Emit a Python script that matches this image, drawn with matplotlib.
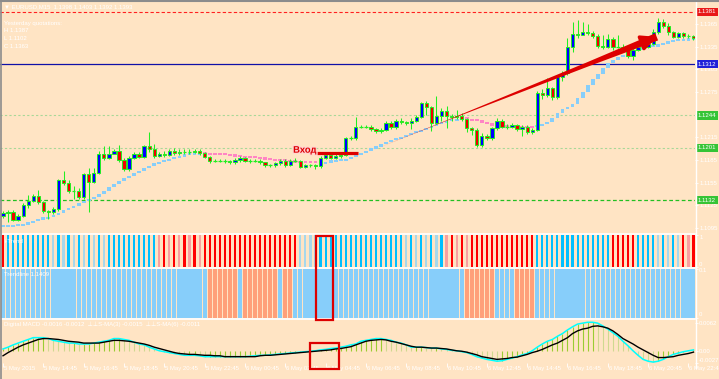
import numpy as np
import matplotlib
matplotlib.use('agg')
import matplotlib.pyplot as plt
from matplotlib.patches import Rectangle
from matplotlib.lines import Line2D
from matplotlib.transforms import blended_transform_factory
import matplotlib.patheffects as pe

plt.rcParams['font.family'] = ['Liberation Sans', 'DejaVu Sans']

# ---- data (EURUSD M15, 5-6 May 2015) ----
first_open = 1.1111
closes = [1.1115, 1.1116, 1.1106, 1.1111, 1.1125, 1.1131, 1.1137, 1.1129, 1.1117, 1.1116,
          1.1120, 1.1158, 1.1154, 1.1144, 1.1144, 1.1136, 1.1166, 1.1156, 1.1168, 1.1193,
          1.1188, 1.1193, 1.1197, 1.1185, 1.1173, 1.1188, 1.1193, 1.1189, 1.1203, 1.1200,
          1.1190, 1.1193, 1.1192, 1.1197, 1.1194, 1.1196, 1.1196, 1.1196, 1.1197, 1.1194,
          1.1189, 1.1184, 1.1184, 1.1184, 1.1184, 1.1182, 1.1185, 1.1188, 1.1184, 1.1184,
          1.1184, 1.1182, 1.1178, 1.1178, 1.1181, 1.1184, 1.1178, 1.1184, 1.1184, 1.1176,
          1.1178, 1.1178, 1.1177, 1.1188, 1.1192, 1.1188, 1.1190, 1.1192, 1.1214, 1.1214,
          1.1229, 1.1229, 1.1229, 1.1226, 1.1223, 1.1225, 1.1234, 1.1229, 1.1237, 1.1235,
          1.1234, 1.1237, 1.1242, 1.1260, 1.1255, 1.1234, 1.1243, 1.1250, 1.1243, 1.1242,
          1.1243, 1.1239, 1.1227, 1.1225, 1.1205, 1.1217, 1.1214, 1.1227, 1.1237, 1.1229,
          1.1229, 1.1231, 1.1226, 1.1229, 1.1222, 1.1225, 1.1274, 1.1271, 1.1280, 1.1268,
          1.1295, 1.1300, 1.1335, 1.1352, 1.1350, 1.1354, 1.1353, 1.1349, 1.1336, 1.1335,
          1.1345, 1.1335, 1.1335, 1.1332, 1.1323, 1.1331, 1.1335, 1.1335, 1.1339, 1.1354,
          1.1368, 1.1362, 1.1354, 1.1348, 1.1353, 1.1349, 1.1349, 1.1346]
highs = [1.1118, 1.1119, 1.1119, 1.1113, 1.1128, 1.1139, 1.1140, 1.1145, 1.1131, 1.1119,
         1.1123, 1.1160, 1.1171, 1.1158, 1.1150, 1.1148, 1.1168, 1.1174, 1.1174, 1.1197,
         1.1203, 1.1203, 1.1200, 1.1205, 1.1187, 1.1190, 1.1196, 1.1196, 1.1205, 1.1222,
         1.1206, 1.1196, 1.1197, 1.1200, 1.1201, 1.1199, 1.1200, 1.1199, 1.1200, 1.1199,
         1.1196, 1.1190, 1.1186, 1.1186, 1.1186, 1.1185, 1.1187, 1.1190, 1.1189, 1.1186,
         1.1186, 1.1186, 1.1183, 1.1180, 1.1183, 1.1186, 1.1186, 1.1186, 1.1188, 1.1185,
         1.1180, 1.1180, 1.1180, 1.1190, 1.1194, 1.1193, 1.1193, 1.1194, 1.1216, 1.1217,
         1.1242, 1.1231, 1.1231, 1.1231, 1.1227, 1.1227, 1.1237, 1.1237, 1.1239, 1.1240,
         1.1237, 1.1240, 1.1245, 1.1262, 1.1263, 1.1257, 1.1270, 1.1254, 1.1257, 1.1246,
         1.1251, 1.1247, 1.1241, 1.1229, 1.1227, 1.1221, 1.1219, 1.1229, 1.1240, 1.1239,
         1.1232, 1.1234, 1.1233, 1.1231, 1.1231, 1.1228, 1.1276, 1.1279, 1.1293, 1.1282,
         1.1297, 1.1303, 1.1347, 1.1368, 1.1370, 1.1368, 1.1365, 1.1356, 1.1352, 1.1350,
         1.1352, 1.1348, 1.1350, 1.1338, 1.1334, 1.1333, 1.1338, 1.1338, 1.1341, 1.1358,
         1.1373, 1.1372, 1.1366, 1.1356, 1.1355, 1.1355, 1.1352, 1.1350]
lows = [1.1108, 1.1103, 1.1104, 1.1104, 1.1109, 1.1122, 1.1129, 1.1127, 1.1115, 1.1107,
        1.1113, 1.1118, 1.1152, 1.1141, 1.1134, 1.1133, 1.1134, 1.1116, 1.1154, 1.1166,
        1.1185, 1.1186, 1.1195, 1.1183, 1.1170, 1.1170, 1.1186, 1.1187, 1.1187, 1.1196,
        1.1188, 1.1189, 1.1189, 1.1190, 1.1192, 1.1192, 1.1193, 1.1193, 1.1194, 1.1192,
        1.1187, 1.1181, 1.1182, 1.1182, 1.1181, 1.1180, 1.1180, 1.1183, 1.1182, 1.1181,
        1.1182, 1.1180, 1.1176, 1.1176, 1.1176, 1.1179, 1.1176, 1.1177, 1.1182, 1.1174,
        1.1174, 1.1176, 1.1173, 1.1175, 1.1186, 1.1186, 1.1186, 1.1188, 1.1190, 1.1212,
        1.1212, 1.1227, 1.1227, 1.1224, 1.1221, 1.1221, 1.1223, 1.1226, 1.1226, 1.1233,
        1.1231, 1.1226, 1.1235, 1.1240, 1.1244, 1.1224, 1.1232, 1.1237, 1.1228, 1.1237,
        1.1239, 1.1236, 1.1222, 1.1218, 1.1202, 1.1202, 1.1211, 1.1212, 1.1225, 1.1227,
        1.1226, 1.1227, 1.1223, 1.1217, 1.1219, 1.1220, 1.1223, 1.1266, 1.1268, 1.1265,
        1.1266, 1.1289, 1.1298, 1.1328, 1.1347, 1.1350, 1.1350, 1.1347, 1.1333, 1.1332,
        1.1333, 1.1330, 1.1333, 1.1330, 1.1320, 1.1318, 1.1329, 1.1332, 1.1333, 1.1337,
        1.1352, 1.1360, 1.1351, 1.1346, 1.1346, 1.1347, 1.1347, 1.1344]

# trailing trend line under the price (light blue = up, pink = down)
trend_ma = [1.1098, 1.1098, 1.1098, 1.1099, 1.1100, 1.1102, 1.1104, 1.1107, 1.1108, 1.1109,
            1.1112, 1.1115, 1.1119, 1.1121, 1.1124, 1.1128, 1.1131, 1.1133, 1.1136, 1.1140,
            1.1144, 1.1149, 1.1153, 1.1157, 1.1161, 1.1164, 1.1168, 1.1170, 1.1174, 1.1177,
            1.1181, 1.1182, 1.1185, 1.1186, 1.1189, 1.1190, 1.1192, 1.1193, 1.1193, 1.1194,
            1.1194, 1.1193, 1.1193, 1.1193, 1.1192, 1.1192, 1.1190, 1.1190, 1.1189, 1.1189,
            1.1188, 1.1188, 1.1186, 1.1186, 1.1185, 1.1185, 1.1184, 1.1184, 1.1182, 1.1182,
            1.1182, 1.1182, 1.1182, 1.1181, 1.1182, 1.1184, 1.1184, 1.1185, 1.1186, 1.1189,
            1.1192, 1.1194, 1.1197, 1.1201, 1.1202, 1.1206, 1.1209, 1.1211, 1.1214, 1.1215,
            1.1218, 1.1221, 1.1222, 1.1225, 1.1227, 1.1230, 1.1233, 1.1234, 1.1237, 1.1238,
            1.1239, 1.1241, 1.1239, 1.1238, 1.1237, 1.1235, 1.1233, 1.1231, 1.1230, 1.1230,
            1.1230, 1.1229, 1.1229, 1.1229, 1.1229, 1.1229, 1.1230, 1.1233, 1.1235, 1.1241,
            1.1247, 1.1252, 1.1255, 1.1259, 1.1267, 1.1275, 1.1284, 1.1292, 1.1299, 1.1307,
            1.1313, 1.1317, 1.1321, 1.1324, 1.1327, 1.1329, 1.1332, 1.1333, 1.1335, 1.1336,
            1.1337, 1.1340, 1.1341, 1.1343, 1.1344, 1.1344, 1.1345, 1.1345]
trend_runs = [('up', 40), ('down', 24), ('up', 28), ('down', 14), ('up', 32)]

levels = [1.1381, 1.1312, 1.1244, 1.1201, 1.1132]
price_ticks = [1.1095, 1.1125, 1.1155, 1.1185, 1.1215, 1.1245, 1.1275, 1.1305, 1.1335, 1.1365]

# sub window 1: two-state histogram (R/B strong, r/b pale)
signal_codes = ('R' + 'BBBBBBBB' + 'BbBbBbBbBbBb' + 'BBBBBBBBBB'
                + 'rRrRrRrRrR' + 'RRRRRRRRRRRRRRRRRR'
                + 'bbbb' + 'BBBBBBBBBBBBBBBB' + 'BbBbBbBbB'
                + 'rRrRr' + 'RRRRRRRRRRRRR'
                + 'BBBBBBBBBBBBBBB' + 'RRRRR' + 'BBBBbBbBb' + 'RrR')
# sub window 2: Trendline state (B = blue, S = salmon)
trendline_codes = ('B' * 41 + 'S' * 6 + 'B' + 'S' * 7 + 'B' + 'S' * 2 + 'B' * 34
                   + 'S' * 6 + 'B' * 4 + 'S' * 4 + 'B' * 32)

# sub window 3: Digital MACD
macd_fast = [0.0004, 0.0008, 0.0013, 0.0017, 0.0021, 0.0025, 0.0029, 0.0029, 0.0029, 0.0027,
             0.0023, 0.0021, 0.0019, 0.0017, 0.0017, 0.0015, 0.0015, 0.0015, 0.0017, 0.0019,
             0.0021, 0.0023, 0.0027, 0.0027, 0.0025, 0.0023, 0.0019, 0.0015, 0.0013, 0.0008,
             0.0004, 0.0000, -0.0002, -0.0004, -0.0006, -0.0008, -0.0010, -0.0010, -0.0010, -0.0011,
             -0.0013, -0.0013, -0.0013, -0.0013, -0.0013, -0.0013, -0.0013, -0.0013, -0.0013, -0.0012,
             -0.0011, -0.0010, -0.0010, -0.0009, -0.0008, -0.0007, -0.0006, -0.0005, -0.0004, -0.0003,
             -0.0002, -0.0001, 0.0000, 0.0002, 0.0003, 0.0005, 0.0006, 0.0008, 0.0010, 0.0013,
             0.0015, 0.0021, 0.0023, 0.0025, 0.0027, 0.0027, 0.0025, 0.0023, 0.0019, 0.0017,
             0.0013, 0.0008, 0.0008, 0.0008, 0.0007, 0.0006, 0.0006, 0.0004, 0.0003, 0.0001,
             0.0000, -0.0002, -0.0004, -0.0008, -0.0013, -0.0016, -0.0019, -0.0021, -0.0023, -0.0022,
             -0.0019, -0.0016, -0.0013, -0.0009, -0.0006, 0.0000, 0.0008, 0.0015, 0.0021, 0.0025,
             0.0032, 0.0038, 0.0046, 0.0053, 0.0059, 0.0061, 0.0063, 0.0063, 0.0061, 0.0055,
             0.0048, 0.0040, 0.0032, 0.0021, 0.0011, 0.0000, -0.0010, -0.0019, -0.0023, -0.0025,
             -0.0023, -0.0019, -0.0013, -0.0008, -0.0005, -0.0002, 0.0000, 0.0002]
macd_slow = [-0.0011, -0.0004, 0.0002, 0.0008, 0.0013, 0.0017, 0.0021, 0.0025, 0.0027, 0.0027,
             0.0026, 0.0025, 0.0023, 0.0021, 0.0020, 0.0019, 0.0017, 0.0017, 0.0017, 0.0017,
             0.0019, 0.0021, 0.0023, 0.0023, 0.0022, 0.0021, 0.0019, 0.0017, 0.0015, 0.0012,
             0.0008, 0.0005, 0.0002, -0.0001, -0.0004, -0.0006, -0.0007, -0.0008, -0.0008, -0.0009,
             -0.0010, -0.0010, -0.0011, -0.0011, -0.0013, -0.0013, -0.0013, -0.0013, -0.0013, -0.0013,
             -0.0013, -0.0011, -0.0010, -0.0010, -0.0009, -0.0008, -0.0007, -0.0006, -0.0005, -0.0004,
             -0.0003, -0.0002, -0.0001, 0.0000, 0.0001, 0.0002, 0.0004, 0.0005, 0.0007, 0.0009,
             0.0013, 0.0017, 0.0021, 0.0023, 0.0024, 0.0025, 0.0024, 0.0021, 0.0019, 0.0016,
             0.0013, 0.0010, 0.0008, 0.0008, 0.0007, 0.0006, 0.0006, 0.0005, 0.0004, 0.0002,
             0.0000, -0.0001, -0.0003, -0.0006, -0.0009, -0.0013, -0.0015, -0.0017, -0.0019, -0.0018,
             -0.0017, -0.0015, -0.0014, -0.0011, -0.0008, -0.0004, -0.0001, 0.0003, 0.0008, 0.0013,
             0.0017, 0.0023, 0.0029, 0.0038, 0.0044, 0.0048, 0.0050, 0.0054, 0.0055, 0.0053,
             0.0050, 0.0044, 0.0036, 0.0027, 0.0021, 0.0015, 0.0008, 0.0002, -0.0004, -0.0010,
             -0.0015, -0.0015, -0.0014, -0.0013, -0.0010, -0.0008, -0.0006, -0.0003]

time_labels = ['5 May 2015', '5 May 14:45', '5 May 16:45', '5 May 18:45', '5 May 20:45',
               '5 May 22:45', '6 May 00:45', '6 May 02:45', '6 May 04:45', '6 May 06:45',
               '6 May 08:45', '6 May 10:45', '6 May 12:45', '6 May 14:45', '6 May 16:45',
               '6 May 18:45', '6 May 20:45', '6 May 22:45']
bars_per_label = 8

info_lines = ['\u25bc EURUSD,M15  1.1398 1.1403 1.1392 1.1393', '', 'Yesterday quotations:',
              'H 1.1387', 'L 1.1102', 'C 1.1363']

# annotations drawn by the trader
entry_price, entry_from, entry_to = 1.1194, 62.3, 70.4
arrow_start, arrow_end = (74.8, 1.1202), (129.7, 1.1348)

# ---- styling ----
BG = '#FFE4C4'
WICK = '#22EE22'
UP_BODY, DN_BODY = '#0000FF', '#F00000'
ANN = '#DD0000'
W, H = 719, 379
FS = 4.3

fig = plt.figure(figsize=(W / 100, H / 100), dpi=100)
fig.patch.set_facecolor(BG)


def panel(top, bottom):
    a = fig.add_axes([0, 1 - bottom / H, 695 / W, (bottom - top) / H])
    a.set_facecolor(BG)
    for s in a.spines.values():
        s.set_visible(False)
    a.set_xlim(-0.6, 137.3)
    a.tick_params(axis='x', bottom=False, labelbottom=False)
    a.yaxis.tick_right()
    a.tick_params(axis='y', colors='white', labelsize=FS, length=2, width=0.6, pad=1)
    return a


ax = panel(3, 232)
ax2 = panel(235, 266.5)
ax3 = panel(268.5, 317.5)
ax4 = panel(320, 363)

n = len(closes)
x = np.arange(n)
c = np.array(closes)
o = np.array([first_open] + closes[:-1])
hi = np.array(highs)
lo = np.array(lows)

# trend line blocks
ma = np.array(trend_ma)
state = []
for name, cnt in trend_runs:
    state += [name] * cnt
prev = np.concatenate([[ma[0]], ma[:-1]])
blo = np.minimum(prev, ma)
bhi = np.maximum(prev, ma)
minh = 0.00028
small = (bhi - blo) < minh
mid = (blo + bhi) / 2
blo = np.where(small, mid - minh / 2, blo)
bhi = np.where(small, mid + minh / 2, bhi)
ma_cols = ['#87CEFA' if s == 'up' else '#FF85C4' for s in state]
ax.bar(x, bhi - blo, bottom=blo, width=0.75, color=ma_cols, zorder=2)

# horizontal levels
ax.axhline(levels[0], color='#FF2020', lw=0.8, ls=(0, (3, 2)), zorder=1)
ax.axhline(levels[1], color='#1010A8', lw=0.9, zorder=1)
ax.axhline(levels[2], color='#A8D898', lw=0.8, ls=(0, (2, 2)), zorder=1)
ax.axhline(levels[3], color='#A8D898', lw=0.8, ls=(0, (2, 2)), zorder=1)
ax.axhline(levels[4], color='#22C022', lw=0.9, ls=(0, (3, 2)), zorder=1)

# candles
ax.vlines(x, lo, hi, color=WICK, lw=0.75, zorder=3)
body = np.abs(c - o) > 1e-6
bcol = [UP_BODY if cc > oo else DN_BODY for cc, oo in zip(c[body], o[body])]
ax.bar(x[body], np.abs(c - o)[body], bottom=np.minimum(c, o)[body], width=0.66,
       color=bcol, edgecolor=WICK, linewidth=0.7, zorder=4)
ax.hlines(c[~body], x[~body] - 0.38, x[~body] + 0.38, color=WICK, lw=0.9, zorder=4)

ax.set_ylim(1.10897, 1.13928)
ax.set_yticks(price_ticks)
ax.set_yticklabels(['%.4f' % t for t in price_ticks])

# price boxes on the right scale
tr = blended_transform_factory(ax.transAxes, ax.transData)
box_cols = ['#E81818', '#2020D8', '#36C436', '#36C436', '#36C436']
for lv, bc in zip(levels, box_cols):
    ax.text(1.004, lv, '%.4f' % lv, transform=tr, ha='left', va='center', color='white',
            fontsize=FS, clip_on=False, zorder=10,
            bbox=dict(boxstyle='square,pad=0.3', fc=bc, ec='none'))

# info text, top left
for k, line in enumerate(info_lines):
    fig.text(4 / W, 1 - (7 + k * 8) / H, line, fontsize=FS, color='white', va='center')

# entry annotation
ax.hlines(entry_price, entry_from, entry_to, color=ANN, lw=2.3, zorder=6)
ax.text(entry_from - 0.1, entry_price + 0.0004, 'Вход', color=ANN, fontsize=6.8,
        fontweight='bold', ha='right', va='center', zorder=7,
        path_effects=[pe.withStroke(linewidth=1.5, foreground='#FFD2D2')])

# trend arrow: tapered shaft + head
ax.annotate('', xy=arrow_start, xytext=arrow_end, zorder=6,
            arrowprops=dict(arrowstyle='wedge,tail_width=0.55,shrink_factor=0.25',
                            color=ANN, lw=0, shrinkA=0, shrinkB=0))
dx = arrow_end[0] - arrow_start[0]
dy = arrow_end[1] - arrow_start[1]
ax.annotate('', xy=arrow_end, xytext=(arrow_end[0] - 0.1 * dx, arrow_end[1] - 0.1 * dy),
            zorder=6, arrowprops=dict(arrowstyle='-|>,head_length=0.9,head_width=0.45',
                                      color=ANN, lw=2.4, shrinkA=0, shrinkB=0))

# sub window 1
sig_col = {'R': '#FF0000', 'B': '#00BFFF', 'r': '#F8A0A0', 'b': '#A6D8EC'}
ax2.bar(x, 1, width=0.42, color=[sig_col[ch] for ch in signal_codes], zorder=2)
ax2.set_ylim(0, 1)
ax2.set_yticks([0, 1])
ax2.set_yticklabels(['0', '1'])
ax2.get_yticklabels()[0].set_va('bottom')
ax2.get_yticklabels()[1].set_va('top')
ax2.text(0.006, 0.78, 'i-Trend', transform=ax2.transAxes, fontsize=FS, color='white', va='center')

# sub window 2
tl_col = {'B': '#87CEFA', 'S': '#FFA07A'}
ax3.bar(x, 0.1, width=0.84, color=[tl_col[ch] for ch in trendline_codes], zorder=2)
ax3.set_ylim(0, 0.1)
ax3.set_yticks([0, 0.1])
ax3.set_yticklabels(['0', '0.1'])
ax3.get_yticklabels()[0].set_va('bottom')
ax3.get_yticklabels()[1].set_va('top')
ax3.text(0.006, 0.88, 'Trendline 1.1409', transform=ax3.transAxes, fontsize=FS,
         color='white', va='center')

# sub window 3
hist = np.array(macd_fast)
rising = np.concatenate([[True], np.diff(hist) >= 0])
hcol = ['#9ACD32' if r else '#CFD98F' for r in rising]
ax4.vlines(x, 0, hist, colors=hcol, lw=0.8, zorder=2)
ax4.plot(x, macd_fast, color='#00FFFF', lw=1.1, zorder=3)
ax4.plot(x, macd_slow, color='black', lw=1.0, zorder=4)
ax4.set_ylim(-0.0027, 0.0068)
ax4.set_yticks([-0.0027, 0.0, 0.0062])
ax4.set_yticklabels(['-0.0027', '0.00', '0.0062'])
ax4.get_yticklabels()[0].set_va('bottom')
ax4.text(0.006, 0.9, 'Digital MACD -0.0016 -0.0012  \u22a5\u22a5S-MA(3) -0.0015  \u22a5\u22a5S-MA(6) -0.0011',
         transform=ax4.transAxes, fontsize=FS, color='white', va='center')

tpos = [k * bars_per_label for k in range(len(time_labels))]
ax4.set_xticks(tpos)
ax4.tick_params(axis='x', bottom=True, colors='white', length=3, width=0.6, direction='out')
ttr = blended_transform_factory(ax4.transData, ax4.transAxes)
for p, lab in zip(tpos, time_labels):
    ax4.text(p + 0.2, -0.07, lab, transform=ttr, ha='left', va='top', fontsize=FS,
             color='white', clip_on=False)

# red highlight boxes
btr = blended_transform_factory(ax.transData, fig.transFigure)
fig.add_artist(Rectangle((62.1, 1 - 320 / H), 3.4, 84 / H, transform=btr, fill=False,
                         ec=ANN, lw=1.6, zorder=20))
fig.add_artist(Rectangle((61.0, 1 - 369 / H), 5.7, 26 / H, transform=btr, fill=False,
                         ec=ANN, lw=1.6, zorder=20))

# window frame and separators
for yy in [233.5, 267.5, 318.8]:
    fig.add_artist(Line2D([0, 695 / W], [1 - yy / H] * 2, color='white', lw=1.2))
fig.add_artist(Line2D([695.5 / W] * 2, [1 - 368 / H, 1 - 2 / H], color='white', lw=1.0))
fig.add_artist(Line2D([0, 1], [1 - 0.8 / H] * 2, color='#8C8C8C', lw=1.5))
fig.add_artist(Line2D([0.6 / W] * 2, [0, 1], color='#8C8C8C', lw=1.2))

fig.savefig('out.png', dpi=100, facecolor=BG)
